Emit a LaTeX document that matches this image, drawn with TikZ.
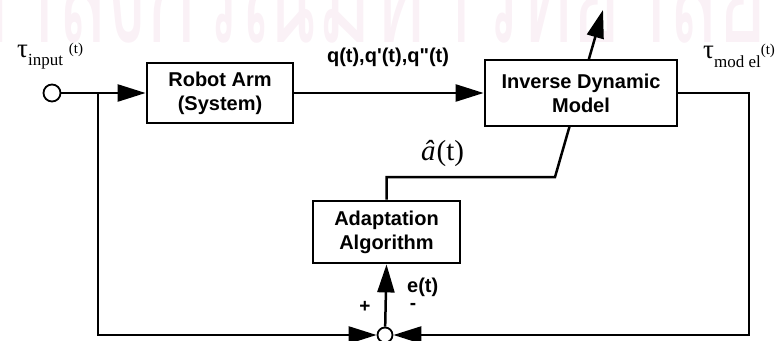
\documentclass[tikz,border=0pt]{standalone}
\usepackage{fontspec}
\setmainfont{Liberation Sans}
\newfontfamily\tms{Liberation Serif}
\newfontfamily\thaifont[Script=Thai]{Loma}
\font\qfnt="Liberation Sans/B" at 20pt
\usetikzlibrary{arrows.meta,backgrounds}
\definecolor{wm}{RGB}{250,241,246}
\tikzset{
  blk/.style={draw, line width=2.8pt, fill=white, inner sep=0pt, align=center,
    font=\bfseries\fontsize{20}{24}\selectfont},
  ln/.style={line width=2.5pt},
  arr/.style={ln, -{Triangle[length=28pt,width=17pt]}},
  port/.style={circle, draw, line width=1.8pt, minimum size=17pt, inner sep=0pt, fill=white},
  lbl/.style={inner sep=0pt},
}
\begin{document}
\begin{tikzpicture}[x=1pt,y=-1pt]
\useasboundingbox (0,0) rectangle (783,340);
% blocks
\node[blk, minimum width=146pt, minimum height=60pt] (robot) at (220,93) {Robot Arm\\(System)};
\node[blk, minimum width=192pt, minimum height=66pt] (idm) at (581,93) {Inverse Dynamic\\Model};
\node[blk, minimum width=147pt, minimum height=62pt] (adapt) at (386.5,232) {Adaptation\\Algorithm};
\node[port] (in) at (52,93) {};
\node[port, minimum size=15pt] (sum) at (385,335) {};
\coordinate (J) at (98,93);
\coordinate (rc) at (749,335);
\coordinate (a1) at (555,177);
\coordinate (a2) at (603,10);
% watermark and slanted adaptation line behind the blocks
\begin{scope}[on background layer]
\begin{scope}
\clip (0,0) rectangle (783,340);
\node[lbl, anchor=base west, text=wm] (wmk) at (-95,42)
  {\raisebox{0pt}[0pt][0pt]{\scalebox{1.03}[1.9]{\thaifont\fontsize{80}{80}\selectfont จุฬาลงกรณ์มหาวิทยาลัย}}};
\end{scope}
\draw[arr] (adapt.north) |- (a1) -- (a2);
\end{scope}
% connectors
\draw[arr] (in) -- (robot.west);
\draw[arr] (robot.east) -- (idm.west);
\draw[arr] (J) |- (sum);
\draw[arr] (idm.east) -| (rc) -- (sum);
\draw[arr] (sum) -- (adapt.south);
% labels
\node[lbl, anchor=base west] (tin) at (17,57)
  {\tms\fontsize{27}{27}\selectfont τ\raisebox{-8pt}{\fontsize{17}{17}\selectfont input}\hspace{6pt}\raisebox{4pt}{\fontsize{15}{15}\selectfont (t)}};
\node[lbl, anchor=base west] (tmod) at (703,58)
  {\tms\fontsize{27}{27}\selectfont τ\raisebox{-9pt}{\fontsize{17}{17}\selectfont mod el}\raisebox{4pt}{\fontsize{15}{15}\selectfont (t)}};
\node[lbl] (q) at (388,57) {\qfnt q(t),q'(t),q"(t)};
\node[lbl, anchor=base west] (ahat) at (421,160)
  {\tms\fontsize{29}{29}\selectfont{\itshape\^a}\hspace{1pt}(t)};
\node[lbl, anchor=west, font=\bfseries\fontsize{20}{20}\selectfont] (et) at (407,287) {e(t)};
\node[lbl, font=\bfseries\fontsize{19}{19}\selectfont] (plus) at (365,307) {+};
\node[lbl, font=\bfseries\fontsize{19}{19}\selectfont] (minus) at (413,306) {-};
\end{tikzpicture}
\end{document}
